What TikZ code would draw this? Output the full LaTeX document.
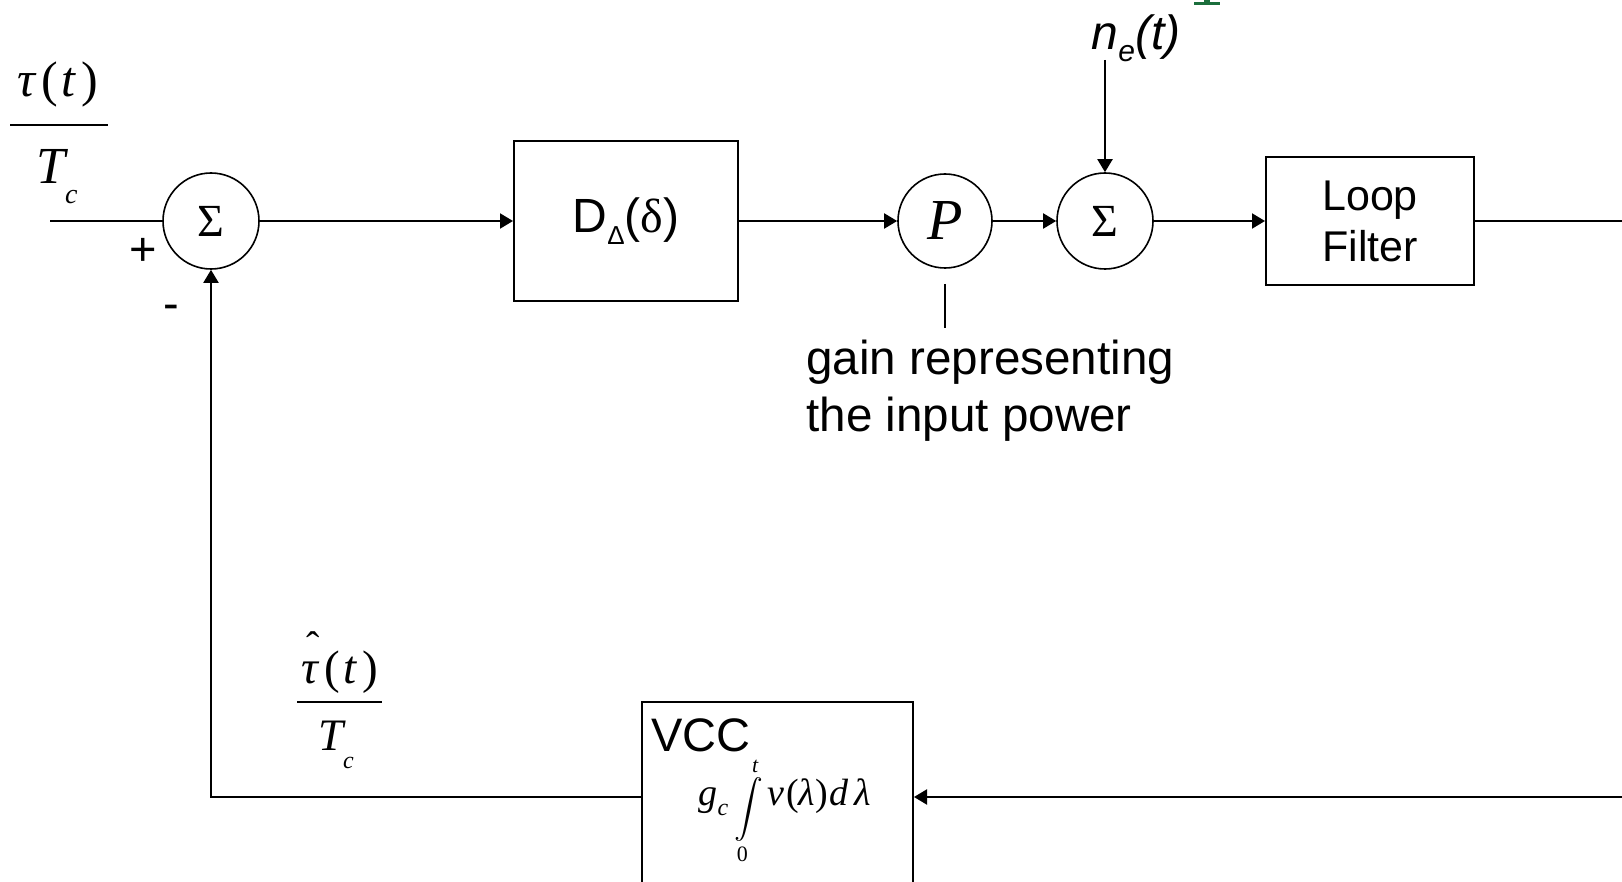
\documentclass[tikz,border=0pt]{standalone}
\usepackage{amsmath}
\usepackage{fontspec}
\setmainfont{Liberation Sans}
\newfontfamily\tmsfont{Liberation Serif}
\usetikzlibrary{arrows.meta}
\definecolor{slidegreen}{HTML}{1B6E3C}
\newcommand{\fsz}[2]{\fontsize{#1}{#2}\selectfont}
\newcommand{\taut}{{\itshape τ}\kern3pt(\kern1.5pt{\itshape t}\kern3pt)}
\newcommand{\tauhat}{\rlap{\kern2.5pt\raisebox{12pt}{\fsz{20}{20}ˆ}}\taut}
\tikzset{
  sumnode/.style={circle, draw, line width=0.8pt, minimum size=48pt, inner sep=0pt},
  blocknode/.style={draw, line width=1pt, inner sep=0pt},
  wire/.style={line width=1pt},
  sig/.style={wire, -{Triangle[length=6.5pt, width=7.5pt]}},
}

\begin{document}
\begin{tikzpicture}[x=0.5pt, y=-0.5pt]
  \useasboundingbox (0,0) rectangle (1622,882);
  \clip (0,0) rectangle (1622,882);
  \fill[white] (0,0) rectangle (1622,882);
  \fill[slidegreen] (1194,2.5) rectangle (1220,5);
  \fill[slidegreen] (1204,0) rectangle (1210,3);

  \node[sumnode] (sumin) at (211,221) {\tmsfont\fsz{23}{23}Σ};
  \node[blocknode, minimum width=112pt, minimum height=80pt] (delay) at (626,221)
    {\fsz{24}{24}D\raisebox{-6pt}{\fsz{13}{13}Δ}({\tmsfont δ})};
  \node[sumnode, minimum size=47pt] (gain) at (945,221) {\tmsfont\itshape\fsz{29}{29}P};
  \node[sumnode] (sumnoise) at (1105,221) {\tmsfont\fsz{23}{23}Σ};
  \node[blocknode, minimum width=104pt, minimum height=64pt, align=center,
        font=\fsz{21.5}{25.5}] (filter) at (1370,221) {Loop\\Filter};
  \node[blocknode, minimum width=135.5pt, minimum height=95pt] (vcc) at (777.5,797) {};

  \node[anchor=base] (tauin) at (58,97) {\tmsfont\fsz{25}{25}\taut};
  \node[anchor=base] (tcin) at (57,184) {\tmsfont\itshape\fsz{26}{26}T\raisebox{-10pt}{\fsz{14}{14}c}};
  \draw[wire] (10,125) -- (108,125);
  \node[anchor=base] (plus) at (143,265) {\fsz{23.5}{23.5}+};
  \node[anchor=base] (minus) at (171,320) {\fsz{23.5}{23.5}-};

  \node[anchor=base] (tauout) at (340,683) {\tmsfont\fsz{23.5}{23.5}\tauhat};
  \node[anchor=base] (tcout) at (336,750) {\tmsfont\itshape\fsz{22.5}{22.5}T\raisebox{-9pt}{\fsz{12}{12}c}};
  \draw[wire] (297,702) -- (382,702);

  \node[anchor=base] (noise) at (1136,50)
    {\itshape\fsz{24}{24}n\raisebox{-6pt}{\fsz{15}{15}e}(t)};
  \node[anchor=west, inner sep=0pt, align=left, font=\fsz{23.8}{28.5}] (gainnote) at (806,391)
    {gain representing\\the input power};
  \node (vcclabel) at (701,735) {\fsz{23.5}{23.5}VCC};
  \node[anchor=base] (vcclaw) at (785,805)
    {\tmsfont\itshape\fsz{19}{19}g\raisebox{-5pt}{\fsz{12}{12}c}\kern3pt\raisebox{-6pt}{\fsz{14}{14}$\displaystyle\int\limits_{\mbox{\fsz{11}{11}\tmsfont\upshape 0}}^{\mbox{\fsz{11}{11}\tmsfont\itshape t}}$}\kern2pt v\kern1pt\textup{(}λ\textup{)}\kern1pt d\kern3ptλ};

  \coordinate (inL) at (50,221);
  \coordinate (outR) at (1622,221);
  \coordinate (fbR) at (1622,797);
  \coordinate (noisein) at (1105,60);
  \coordinate (gaintick) at (945,284);

  \draw[wire] (inL) -- (sumin.west);
  \draw[sig] (sumin) -- (delay);
  \draw[sig] (delay) -- (gain);
  \draw[sig] (gain) -- (sumnoise);
  \draw[sig] (noisein) -- (sumnoise.north);
  \draw[sig] (sumnoise) -- (filter);
  \draw[wire] (filter) -- (outR);
  \draw[wire, line width=0.8pt] (gaintick) -- ([yshift=6pt]gaintick |- gainnote.north);
  \draw[sig] (fbR) -- (vcc.east);
  \draw[sig] (vcc.west) -| (sumin.south);
\end{tikzpicture}
\end{document}
